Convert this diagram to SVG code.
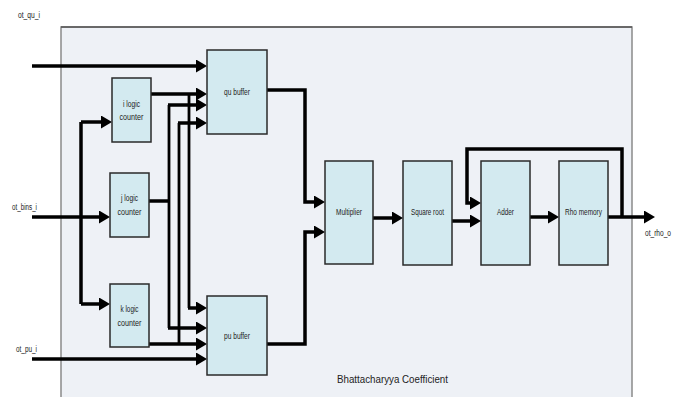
<svg xmlns="http://www.w3.org/2000/svg" width="686" height="397" viewBox="0 0 686 397">
<style>
.blk{fill:#d3eaf0;stroke:#2a2a2a;stroke-width:1.5}
.w{fill:none;stroke:#000;stroke-width:3.5;stroke-linejoin:miter}
.v{fill:none;stroke:#000;stroke-width:2.8}
.a{marker-end:url(#ah)}
.t{font-family:"Liberation Sans",Arial,sans-serif;font-size:8.5px;fill:#222;text-anchor:middle}
.l{font-family:"Liberation Sans",Arial,sans-serif;font-size:8.5px;fill:#222}
</style>
<defs>
<marker id="ah" markerUnits="userSpaceOnUse" markerWidth="11" markerHeight="13" refX="4" refY="6.5" orient="auto">
<path d="M0,0 L11,6.5 L0,13 z" fill="#000"/>
</marker>
</defs>
<rect width="686" height="397" fill="#fff"/>
<g id="frame">
<rect x="61" y="27" width="571" height="380" fill="#eef1f6" stroke="#8a8a8a" stroke-width="1.5"/>
<line x1="61" y1="27" x2="632" y2="27" stroke="#555" stroke-width="1.5"/>
<text class="l" x="337" y="383" style="font-size:10.5px" textLength="111" lengthAdjust="spacingAndGlyphs">Bhattacharyya Coefficient</text>
</g>
<g id="connectors">
<path class="w a" d="M32,66 H200"/>
<path class="w a" d="M32,217 H103"/>
<path class="w a" d="M32,359 H200"/>
<path class="w" d="M81,122 V304"/>
<path class="w a" d="M81,122 H105"/>
<path class="w a" d="M81,304 H103"/>
<path class="w a" d="M148,94 H200"/>
<path class="v" d="M189,94 V308"/>
<path class="w a" d="M188,308 H200"/>
<path class="w" d="M149,201 H170"/>
<path class="v" d="M169,105 V328"/>
<path class="w a" d="M168,105 H200"/>
<path class="w a" d="M168,328 H200"/>
<path class="w a" d="M149,344 H200"/>
<path class="v" d="M179,123 V344"/>
<path class="w a" d="M178,123 H200"/>
<path class="w a" d="M267,90 H305 V202 H318"/>
<path class="w a" d="M267,344 H305 V232 H318"/>
<path class="w a" d="M373,218 H396"/>
<path class="w a" d="M452,221 H474"/>
<path class="w a" d="M530,217 H552"/>
<path class="w a" d="M608,217 H648"/>
<path class="w a" d="M622,217 V149 H467 V203 H474"/>
</g>
<g id="qu_buffer"><rect class="blk" x="207" y="50" width="60" height="84"/><text class="t" x="237" y="95" textLength="26" lengthAdjust="spacingAndGlyphs">qu buffer</text></g>
<g id="pu_buffer"><rect class="blk" x="207" y="296" width="60" height="79"/><text class="t" x="237" y="339" textLength="26" lengthAdjust="spacingAndGlyphs">pu buffer</text></g>
<g id="i_counter"><rect class="blk" x="112" y="78" width="39" height="64"/><text class="t" x="131.5" y="107" textLength="17" lengthAdjust="spacingAndGlyphs">i logic</text><text class="t" x="131.5" y="120" textLength="24" lengthAdjust="spacingAndGlyphs">counter</text></g>
<g id="j_counter"><rect class="blk" x="110" y="173" width="39" height="64"/><text class="t" x="129.5" y="201" textLength="17" lengthAdjust="spacingAndGlyphs">j logic</text><text class="t" x="129.5" y="215" textLength="24" lengthAdjust="spacingAndGlyphs">counter</text></g>
<g id="k_counter"><rect class="blk" x="110" y="284" width="39" height="63"/><text class="t" x="129.5" y="312" textLength="18" lengthAdjust="spacingAndGlyphs">k logic</text><text class="t" x="129.5" y="326" textLength="24" lengthAdjust="spacingAndGlyphs">counter</text></g>
<g id="multiplier"><rect class="blk" x="325" y="161" width="48" height="103"/><text class="t" x="349" y="215" textLength="26" lengthAdjust="spacingAndGlyphs">Multiplier</text></g>
<g id="square_root"><rect class="blk" x="403" y="161" width="49" height="104"/><text class="t" x="427.5" y="215" textLength="33" lengthAdjust="spacingAndGlyphs">Square root</text></g>
<g id="adder"><rect class="blk" x="481" y="161" width="49" height="104"/><text class="t" x="505.5" y="215" textLength="17" lengthAdjust="spacingAndGlyphs">Adder</text></g>
<g id="rho_memory"><rect class="blk" x="559" y="161" width="49" height="104"/><text class="t" x="583.5" y="215" textLength="37" lengthAdjust="spacingAndGlyphs">Rho memory</text></g>
<g id="labels">
<text class="l" x="18" y="18" textLength="22" lengthAdjust="spacingAndGlyphs">ot_qu_i</text>
<text class="l" x="12" y="210" textLength="25" lengthAdjust="spacingAndGlyphs">ot_bins_i</text>
<text class="l" x="16" y="352" textLength="21" lengthAdjust="spacingAndGlyphs">ot_pu_i</text>
<text class="l" x="645" y="236" textLength="26" lengthAdjust="spacingAndGlyphs">ot_rho_o</text>
</g>
</svg>
